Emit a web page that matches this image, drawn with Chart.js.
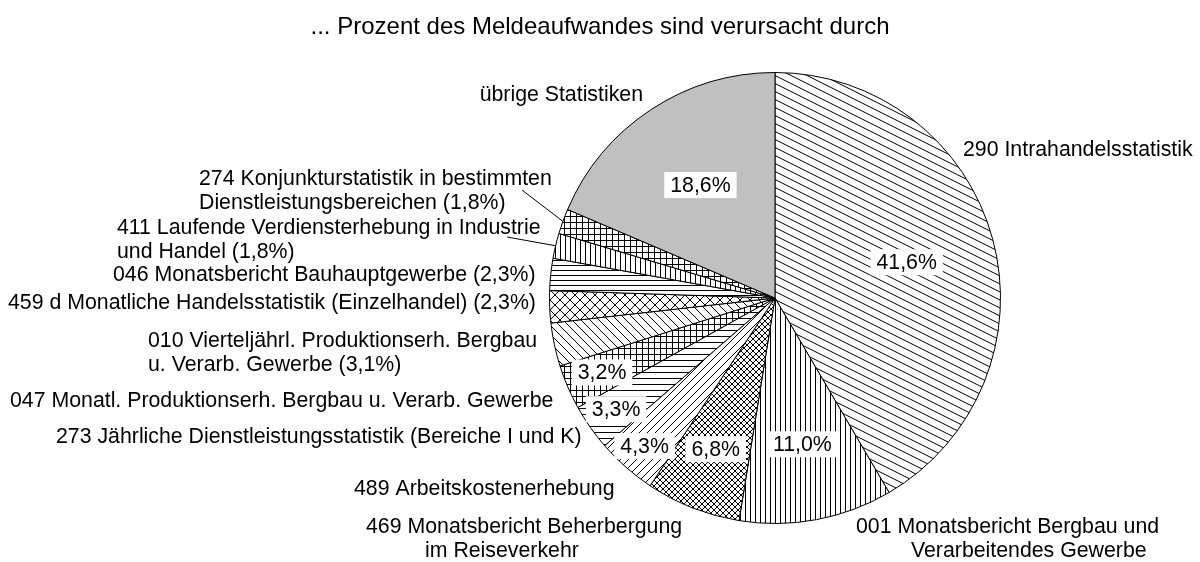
<!DOCTYPE html>
<html>
<head>
<meta charset="utf-8">
<script src="https://cdn.jsdelivr.net/npm/chart.js@4.4.1/dist/chart.umd.min.js"></script>
<style>
  body { margin: 0; background: #fff; }
  canvas { display: block; }
</style>
</head>
<body>
<canvas id="pieChart" width="1200" height="562"></canvas>
<script>
const titleText = '... Prozent des Meldeaufwandes sind verursacht durch';

const categories = [
    '290 Intrahandelsstatistik',
    '001 Monatsbericht Bergbau und Verarbeitendes Gewerbe',
    '469 Monatsbericht Beherbergung im Reiseverkehr',
    '489 Arbeitskostenerhebung',
    '273 Jährliche Dienstleistungsstatistik (Bereiche I und K)',
    '047 Monatl. Produktionserh. Bergbau u. Verarb. Gewerbe',
    '010 Vierteljährl. Produktionserh. Bergbau u. Verarb. Gewerbe',
    '459 d Monatliche Handelsstatistik (Einzelhandel)',
    '046 Monatsbericht Bauhauptgewerbe',
    '411 Laufende Verdiensterhebung in Industrie und Handel',
    '274 Konjunkturstatistik in bestimmten Dienstleistungsbereichen',
    'übrige Statistiken'
];
const shares = [41.6, 11.0, 6.8, 4.3, 3.3, 3.2, 3.1, 2.3, 2.3, 1.8, 1.8, 18.6];
// which slices carry a percent box inside the pie
const showShare = [true, true, true, true, true, true, false, false, false, false, false, true];

// label text as printed beside the pie (lines)
const labelLines = [
    ['290 Intrahandelsstatistik'],
    ['001 Monatsbericht Bergbau und', 'Verarbeitendes Gewerbe'],
    ['469 Monatsbericht Beherbergung', 'im Reiseverkehr'],
    ['489 Arbeitskostenerhebung'],
    ['273 Jährliche Dienstleistungsstatistik (Bereiche I und K)'],
    ['047 Monatl. Produktionserh. Bergbau u. Verarb. Gewerbe'],
    ['010 Vierteljährl. Produktionserh. Bergbau', 'u. Verarb. Gewerbe (3,1%)'],
    ['459 d Monatliche Handelsstatistik (Einzelhandel) (2,3%)'],
    ['046 Monatsbericht Bauhauptgewerbe (2,3%)'],
    ['411 Laufende Verdiensterhebung in Industrie', 'und Handel (1,8%)'],
    ['274 Konjunkturstatistik in bestimmten', 'Dienstleistungsbereichen (1,8%)'],
    ['übrige Statistiken']
];

// layout of the outside labels: x, y of first line, alignment, x of later lines
const labelPos = [
    { x: 963, y: 150, align: 'left' },
    { x: 856, y: 527, align: 'left', x2: 911 },
    { x: 366, y: 527, align: 'left', x2: 425 },
    { x: 354, y: 489, align: 'left' },
    { x: 56, y: 437, align: 'left' },
    { x: 10, y: 401, align: 'left' },
    { x: 148, y: 341, align: 'left' },
    { x: 8, y: 303, align: 'left' },
    { x: 113, y: 275, align: 'left' },
    { x: 117, y: 228, align: 'left', leader: [507, 237] },
    { x: 199, y: 179, align: 'left', leader: [522, 190] },
    { x: 643, y: 95, align: 'right' }
];
// how far out (fraction of radius) the percent boxes sit
const shareRadius = [0.605, 0.66, 0.72, 0.875, 0.86, 0.835, 0, 0, 0, 0, 0, 0.60];

const FONT = '21.3px "Liberation Sans", Arial, sans-serif';
const TITLE_FONT = '24px "Liberation Sans", Arial, sans-serif';
const LINE_H = 24;

function hatch(w, h, draw) {
    const c = document.createElement('canvas');
    c.width = w; c.height = h;
    const g = c.getContext('2d');
    g.fillStyle = '#fff';
    g.fillRect(0, 0, w, h);
    g.strokeStyle = '#000';
    g.lineWidth = 1;
    g.beginPath();
    draw(g, w, h);
    g.stroke();
    return g.createPattern(c, 'repeat');
}

const vertical = (g, w, h) => { g.moveTo(0.5, 0); g.lineTo(0.5, h); };
const horizontal = (g, w, h) => { g.moveTo(0, 0.5); g.lineTo(w, 0.5); };
const grid = (g, w, h) => { vertical(g, w, h); horizontal(g, w, h); };
const down = (g, w, h) => {
    for (let k = -1; k <= 1; k++) { g.moveTo(-1, k * h - h / w); g.lineTo(w + 1, k * h + h + h / w); }
};
const up = (g, w, h) => {
    for (let k = -1; k <= 1; k++) { g.moveTo(-1, k * h + h + h / w); g.lineTo(w + 1, k * h - h / w); }
};
const cross = (g, w, h) => { down(g, w, h); up(g, w, h); };

const fills = [
    hatch(16, 8, down),     // 290
    hatch(5, 1, vertical),  // 001
    hatch(6, 6, cross),     // 469
    hatch(8, 8, up),        // 489
    hatch(1, 6, horizontal),// 273
    hatch(6, 6, grid),      // 047
    hatch(9, 9, down),      // 010
    hatch(10, 10, cross),   // 459 d
    hatch(1, 5, horizontal),// 046
    hatch(5, 1, vertical),  // 411
    hatch(6, 6, grid),      // 274
    '#c0c0c0'               // übrige
];

const labelPlugin = {
    id: 'pieLabels',
    afterDraw(chart) {
        const ctx = chart.ctx;
        const arcs = chart.getDatasetMeta(0).data;
        ctx.save();
        ctx.fillStyle = '#000';
        ctx.textBaseline = 'middle';

        ctx.font = TITLE_FONT;
        ctx.textAlign = 'center';
        ctx.fillText(titleText, 600, 27);

        // outside labels
        ctx.font = FONT;
        labelLines.forEach((lines, i) => {
            const p = labelPos[i];
            ctx.textAlign = p.align;
            lines.forEach((t, j) => {
                const x = j > 0 && p.x2 !== undefined ? p.x2 : p.x;
                ctx.fillText(t, x, p.y + j * LINE_H);
            });
            if (p.leader) {
                const a = arcs[i];
                const mid = (a.startAngle + a.endAngle) / 2;
                ctx.beginPath();
                ctx.strokeStyle = '#000';
                ctx.lineWidth = 1;
                ctx.moveTo(p.leader[0], p.leader[1]);
                ctx.lineTo(a.x + Math.cos(mid) * a.outerRadius, a.y + Math.sin(mid) * a.outerRadius);
                ctx.stroke();
            }
        });

        // percent boxes inside the pie
        ctx.textAlign = 'center';
        arcs.forEach((a, i) => {
            if (!showShare[i]) return;
            const mid = (a.startAngle + a.endAngle) / 2;
            const r = a.outerRadius * shareRadius[i];
            const x = a.x + Math.cos(mid) * r;
            const y = a.y + Math.sin(mid) * r;
            const txt = shares[i].toFixed(1).replace('.', ',') + '%';
            const w = ctx.measureText(txt).width + 12;
            ctx.fillStyle = '#fff';
            ctx.fillRect(x - w / 2, y - 13, w, 26);
            ctx.fillStyle = '#000';
            ctx.fillText(txt, x, y + 1);
        });
        ctx.restore();
    }
};

new Chart(document.getElementById('pieChart'), {
    type: 'pie',
    data: {
        labels: categories,
        datasets: [{
            data: shares,
            backgroundColor: fills,
            borderColor: '#000',
            borderWidth: 1
        }]
    },
    options: {
        responsive: false,
        animation: false,
        layout: { padding: { left: 549, right: 199, top: 72, bottom: 38 } },
        plugins: {
            legend: { display: false },
            tooltip: { enabled: false },
            title: { display: false }
        }
    },
    plugins: [labelPlugin]
});
</script>
</body>
</html>
